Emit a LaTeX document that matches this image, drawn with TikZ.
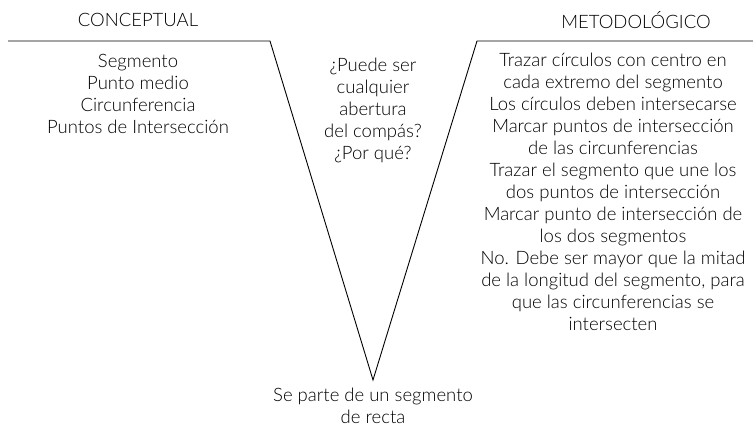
\documentclass[tikz,border=0pt]{standalone}
\usepackage{fontspec}
\setmainfont{Lato Light}
\begin{document}
\begin{tikzpicture}[x=1pt,y=-1pt,
  txt/.style={align=center,font=\fontsize{18.5}{22}\selectfont,inner sep=0pt,text=black},
  vline/.style={line width=0.9pt}]
\useasboundingbox (0,0) rectangle (753,427);
\coordinate (l0) at (8,41);
\coordinate (l1) at (270,41);
\coordinate (v) at (373,380);
\coordinate (r1) at (477,41);
\coordinate (r0) at (753,41);
\draw[vline] (l0) -- (l1) -- (v) -- (r1) -- (r0);
\node[txt] (conc) at (138,20) {CONCEPTUAL};
\node[txt] (meto) at (636,20) {METODOLÓGICO};
\node[txt,anchor=north] (left) at (138,54) {Segmento\\Punto medio\\Circunferencia\\Puntos de Intersección};
\node[txt,anchor=north] (mid) at (373,58) {¿Puede ser\\cualquier\\abertura\\del compás?\\¿Por qué?};
\node[txt,anchor=north] (right) at (613,53) {Trazar círculos con centro en\\cada extremo del segmento\\Los círculos deben intersecarse\\Marcar puntos de intersección\\de las circunferencias\\Trazar el segmento que une los\\dos puntos de intersección\\Marcar punto de intersección de\\los dos segmentos\\No. Debe ser mayor que la mitad\\de la longitud del segmento, para\\que las circunferencias se\\intersecten};
\node[txt,anchor=north] (bot) at (373,388) {Se parte de un segmento\\de recta};
\end{tikzpicture}
\end{document}
